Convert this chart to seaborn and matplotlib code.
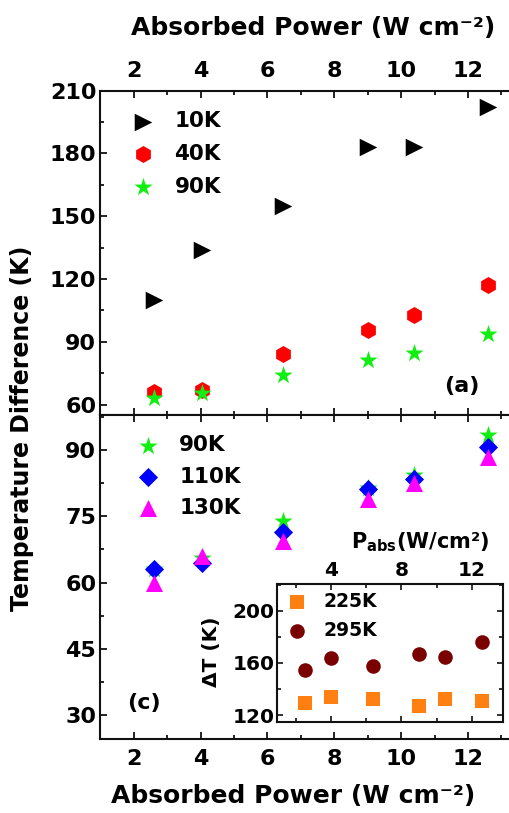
import numpy as np
import pandas as pd
import matplotlib
matplotlib.use('Agg')
import matplotlib.pyplot as plt
import seaborn as sns
from matplotlib.ticker import MultipleLocator, FixedLocator

# ---------------- data ----------------
power = [2.6, 4.05, 6.45, 9.0, 10.4, 12.6]
dT_10K = [110, 134, 155, 183, 183, 202]
dT_40K = [66, 67, 84, 95.5, 103, 117]
dT_90K = [63, 65.5, 74, 81.5, 84.5, 93.5]
dT_110K = [63, 64.5, 71.5, 81.3, 83.4, 90.7]
dT_130K = [60, 66, 69.5, 79, 82.5, 88.5]
inset_power = [2.5, 4.0, 6.4, 9.0, 10.5, 12.6]
dT_225K = [129.5, 134, 132, 127, 132, 130.5]
dT_295K = [154.5, 163.5, 158, 166.5, 164.5, 176]

top_labels = ['10K', '40K', '90K']
bot_labels = ['90K', '110K', '130K']
inset_labels = ['225K', '295K']

# ---------------- style ----------------
sns.set_theme(style='ticks')
plt.rcParams['font.family'] = ['DejaVu Sans']
plt.rcParams['font.weight'] = 'bold'
plt.rcParams['mathtext.fontset'] = 'dejavusans'
plt.rcParams['mathtext.default'] = 'bf'
plt.rcParams['axes.linewidth'] = 1.5
plt.rcParams['axes.edgecolor'] = '#111111'
plt.rcParams['text.color'] = 'black'
plt.rcParams['axes.labelcolor'] = 'black'
plt.rcParams['xtick.color'] = '#111111'
plt.rcParams['ytick.color'] = '#111111'

fig = plt.figure(figsize=(5.09, 8.13), dpi=100)
ax_top = fig.add_axes([0.1974, 0.4895, 0.8026, 0.3989])
ax_bot = fig.add_axes([0.1974, 0.0910, 0.8026, 0.3985])
inset = fig.add_axes([0.5448, 0.1116, 0.4428, 0.1701])

styles = {
    '10K': dict(marker='>', color='#000000', s=160),
    '40K': dict(marker='h', color='#ff0000', s=150),
    '90K': dict(marker='*', color='#11ee11', s=190),
    '110K': dict(marker='D', color='#0000ff', s=95),
    '130K': dict(marker='^', color='#ff00ff', s=150),
    '225K': dict(marker='s', color='#ff8010', s=95),
    '295K': dict(marker='o', color='#7a0000', s=110),
}

top_df = pd.DataFrame({'P': power * 3, 'dT': dT_10K + dT_40K + dT_90K,
                       'T': sum([[l] * len(power) for l in top_labels], [])})
bot_df = pd.DataFrame({'P': power * 3, 'dT': dT_90K + dT_110K + dT_130K,
                       'T': sum([[l] * len(power) for l in bot_labels], [])})
ins_df = pd.DataFrame({'P': inset_power * 2, 'dT': dT_225K + dT_295K,
                       'T': sum([[l] * len(inset_power) for l in inset_labels], [])})

for ax, df, labels in [(ax_top, top_df, top_labels), (ax_bot, bot_df, bot_labels),
                       (inset, ins_df, inset_labels)]:
    for lab in labels:
        st = styles[lab]
        sub = df[df['T'] == lab]
        sns.scatterplot(data=sub, x='P', y='dT', marker=st['marker'], color=st['color'],
                        s=st['s'], linewidth=0, label=lab, ax=ax, legend=False)
    ax.set_xlabel('')
    ax.set_ylabel('')

# ---------------- axes formatting ----------------
for ax in (ax_top, ax_bot):
    ax.set_xlim(1, 13.23)
    ax.spines['right'].set_visible(False)
    ax.xaxis.set_major_locator(MultipleLocator(2))
    ax.xaxis.set_minor_locator(MultipleLocator(1))
    ax.tick_params(axis='both', which='both', direction='in', width=1.3,
                   labelsize=16, colors='#111111', labelcolor='black')
    ax.tick_params(which='major', length=5)
    ax.tick_params(which='minor', length=3)
    ax.tick_params(axis='y', pad=3)
    ax.tick_params(axis='x', pad=7)

ax_top.set_ylim(55, 210)
ax_top.yaxis.set_major_locator(MultipleLocator(30))
ax_top.yaxis.set_minor_locator(MultipleLocator(15))
ax_top.tick_params(axis='x', which='both', top=True, bottom=True, labeltop=True, labelbottom=False)

ax_bot.set_ylim(24.5, 98)
ax_bot.yaxis.set_major_locator(MultipleLocator(15))
ax_bot.yaxis.set_minor_locator(MultipleLocator(7.5))
ax_bot.tick_params(axis='x', which='both', top=True, bottom=True, labeltop=False, labelbottom=True)

inset.set_xlim(0.95, 13.75)
inset.set_ylim(114.5, 220.5)
inset.xaxis.set_major_locator(FixedLocator([4, 8, 12]))
inset.xaxis.set_minor_locator(FixedLocator([2, 6, 10]))
inset.yaxis.set_major_locator(MultipleLocator(40))
inset.yaxis.set_minor_locator(MultipleLocator(20))
inset.tick_params(axis='both', which='both', direction='in', width=1.2,
                  top=True, bottom=True, left=True, right=True,
                  labeltop=True, labelbottom=False, labelsize=14.5,
                  colors='#111111', labelcolor='black')
inset.tick_params(which='major', length=4.5)
inset.tick_params(which='minor', length=3)
inset.tick_params(axis='x', pad=3)
inset.tick_params(axis='y', pad=2)

# ---------------- legends ----------------
ax_top.legend(loc='upper left', bbox_to_anchor=(0.073, 0.937), frameon=False,
              fontsize=15.5, handlelength=1.2, handletextpad=0.85, labelspacing=0.59,
              borderpad=0, borderaxespad=0, scatterpoints=1)
ax_bot.legend(loc='upper left', bbox_to_anchor=(0.085, 0.937), frameon=False,
              fontsize=15.5, handlelength=1.2, handletextpad=0.85, labelspacing=0.52,
              borderpad=0, borderaxespad=0, scatterpoints=1)
inset.legend(loc='upper left', bbox_to_anchor=(0.045, 0.94), frameon=False,
             fontsize=13.5, handlelength=1.0, handletextpad=0.9, labelspacing=0.5,
             borderpad=0, borderaxespad=0, scatterpoints=1)

# ---------------- text ----------------
W, H = 509, 813
def fx(px):
    return px / W
def fy(py):
    return 1 - py / H

fig.text(fx(313), fy(35), 'Absorbed Power (W cm\u207b\u00b2)', ha='center', va='baseline',
         fontsize=18, fontweight='bold')
fig.text(fx(293), fy(803), 'Absorbed Power (W cm\u207b\u00b2)', ha='center', va='baseline',
         fontsize=18, fontweight='bold')
fig.text(fx(22), fy(428), 'Temperature Difference (K)', ha='center', va='center',
         rotation=90, fontsize=17, fontweight='bold')
fig.text(fx(462), fy(386), '(a)', ha='center', va='center', fontsize=16, fontweight='bold')
fig.text(fx(144), fy(703), '(c)', ha='center', va='center', fontsize=16, fontweight='bold')
fig.text(fx(420), fy(542), 'P$_{abs}$(W/cm\u00b2)', ha='center', va='center',
         fontsize=15, fontweight='bold')
fig.text(fx(212), fy(652), '\u0394T (K)', ha='center', va='center', rotation=90,
         fontsize=14.5, fontweight='bold')

fig.savefig('out.png', dpi=100)
